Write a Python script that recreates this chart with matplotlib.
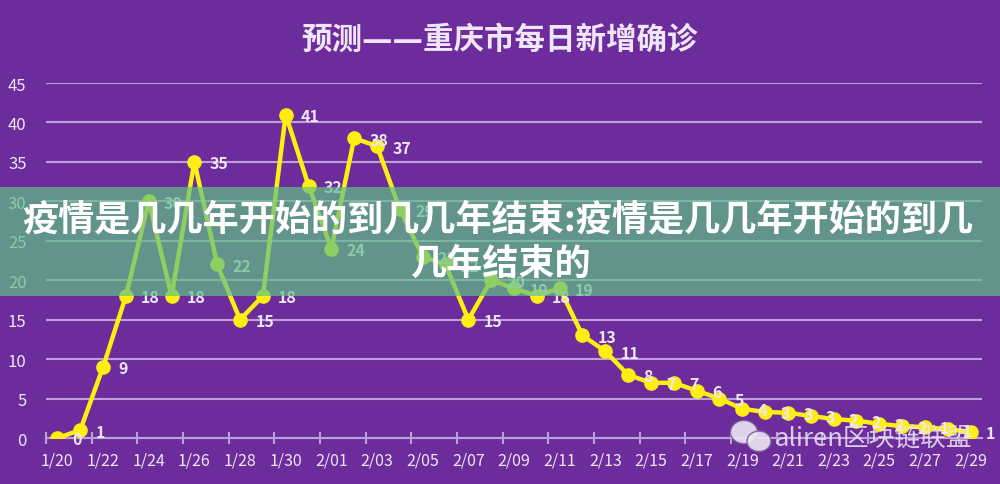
import numpy as np
import matplotlib
matplotlib.use("Agg")
import matplotlib.pyplot as plt
from matplotlib.patches import Rectangle, Ellipse

plt.rcParams['font.family'] = ['Noto Sans CJK SC', 'DejaVu Sans']

# Data: predicted daily new confirmed cases, Chongqing
dates = ['1/20', '1/21', '1/22', '1/23', '1/24', '1/25', '1/26', '1/27', '1/28', '1/29',
         '1/30', '1/31', '2/01', '2/02', '2/03', '2/04', '2/05', '2/06', '2/07', '2/08',
         '2/09', '2/10', '2/11', '2/12', '2/13', '2/14', '2/15', '2/16', '2/17', '2/18',
         '2/19', '2/20', '2/21', '2/22', '2/23', '2/24', '2/25', '2/26', '2/27', '2/28',
         '2/29']
cases = [0, 1, 9, 18, 30, 18, 35, 22, 15, 18,
         41, 32, 24, 38, 37, 29, 23, 22, 15, 20,
         19, 18, 19, 13, 11, 8, 7, 7, 6, 5,
         3.7, 3.3, 3.2, 2.8, 2.4, 2.2, 1.8, 1.5, 1.4, 1.1,
         0.8]
yticks = [0, 5, 10, 15, 20, 25, 30, 35, 40, 45]

title = '预测——重庆市每日新增确诊'
banner1 = '疫情是几几年开始的到几几年结束:疫情是几几年开始的到几'
banner2 = '几年结束的'
watermark = 'aliren区块链联盟'

bg = '#6D2C9C'
grid_c = '#B9A2D8'
text_c = '#EFE6F7'
yellow = '#FFEE10'

fig = plt.figure(figsize=(10, 4.85), dpi=100, facecolor=bg)
ax = fig.add_axes([0.046, 0.0948, 0.936, 0.732], facecolor=bg)

x = np.arange(len(dates))
ax.plot(x, cases, color=yellow, lw=3.2, marker='o', ms=9.5, zorder=3)

for xi, v in zip(x, cases):
    ax.annotate(f'{v:.0f}', (xi, v), xytext=(11, -1), textcoords='offset points',
                ha='left', va='center', fontsize=11.5, fontweight='bold',
                color=text_c, zorder=4)

ax.set_xlim(-0.5, 40.5)
ax.set_ylim(0, 45)
ax.set_yticks(yticks)
ax.set_xticks(x[::2])
ax.set_xticklabels(dates[::2])
ax.set_xticks(np.arange(-0.5, 40, 2), minor=True)
ax.tick_params(axis='x', which='major', length=0, pad=10, labelsize=11.5, labelcolor=text_c)
ax.tick_params(axis='x', which='minor', length=9, width=1.5, direction='inout', color=grid_c)
ax.tick_params(axis='y', length=0, pad=14, labelsize=12, labelcolor=text_c)
ax.yaxis.grid(True, color=grid_c, lw=1.5)
ax.set_axisbelow(True)
for s in ['top', 'right', 'left']:
    ax.spines[s].set_visible(False)
ax.spines['bottom'].set_color(grid_c)
ax.spines['bottom'].set_linewidth(1.5)

fig.text(0.5, 0.918, title, ha='center', va='center', fontsize=22,
         fontweight='heavy', color=text_c, family=['DejaVu Sans', 'Noto Sans CJK SC'])

# semi-transparent banner over the chart
fig.patches.append(Rectangle((0, 0.388), 1, 0.224, transform=fig.transFigure,
                             facecolor='#60C186', alpha=0.7, zorder=10))
fig.text(0.498, 0.547, banner1, ha='center', va='center', fontsize=26,
         fontweight='heavy', color='white', zorder=11)
fig.text(0.5, 0.455, banner2, ha='center', va='center', fontsize=26,
         fontweight='heavy', color='white', zorder=11)

# watermark
wm = '#ECE6F2'
fig.patches.append(Ellipse((0.744, 0.107), 0.027, 0.048, transform=fig.transFigure,
                           facecolor=wm, edgecolor='#7A5C96', lw=1, alpha=0.9, zorder=10))
fig.patches.append(Ellipse((0.759, 0.088), 0.024, 0.042, transform=fig.transFigure,
                           facecolor=wm, edgecolor='#7A5C96', lw=1, alpha=0.9, zorder=10))
fig.text(0.775, 0.093, watermark, ha='left', va='center', fontsize=18.5,
         color=wm, alpha=0.85, zorder=11)

fig.savefig('out.png', dpi=100, facecolor=bg)
